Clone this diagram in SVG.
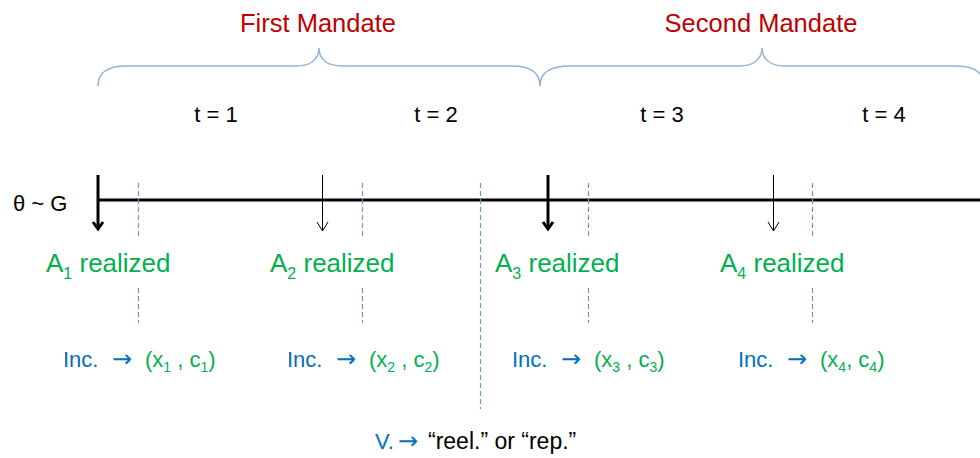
<svg xmlns="http://www.w3.org/2000/svg" width="980" height="458" viewBox="0 0 980 458">
  <style>
    text { font-family: "Liberation Sans", Arial, sans-serif; }
    .mandate { font-size: 25.5px; fill: #c00000; }
    .period { font-size: 22px; fill: #000000; text-anchor: middle; }
    .theta { font-size: 22px; fill: #000000; }
    .real { font-size: 26px; fill: #00b050; }
    .inc { font-size: 22px; fill: #0070c0; }
    .arr { font-family: "DejaVu Sans", sans-serif; font-size: 24px; }
    .grn { fill: #00b050; }
    .blk { fill: #000000; }
    .sub { font-size: 14px; }
    .brace { fill: none; stroke: #94b3d6; stroke-width: 1.5; }
    .axis { stroke: #000000; stroke-width: 3; }
    .thick { stroke: #000000; stroke-width: 3; fill: none; marker-end: url(#headThick); }
    .thin { stroke: #000000; stroke-width: 1; fill: none; marker-end: url(#headThin); }
    .dash { stroke: #6d95c9; stroke-width: 1.2; stroke-dasharray: 5 3; fill: none; }
  </style>
  <defs>
    <marker id="headThick" markerUnits="userSpaceOnUse" markerWidth="20" markerHeight="20" refX="7" refY="6" orient="auto" overflow="visible">
      <path d="M0,1 L7,6 L0,11" fill="none" stroke="#000" stroke-width="3" stroke-linejoin="miter"/>
    </marker>
    <marker id="headThin" markerUnits="userSpaceOnUse" markerWidth="20" markerHeight="20" refX="9" refY="6" orient="auto" overflow="visible">
      <path d="M0,0.5 L9,6 L0,11.5" fill="none" stroke="#000" stroke-width="1"/>
    </marker>
  </defs>

  <g id="connectors">
    <path class="brace" d="M98,86 C98,72 108,66 126,66 L296,66 C310,66 319,60 319,48 C319,60 328,66 342,66 L512,66 C530,66 540,72 540,86"/>
    <path class="brace" d="M540,86 C540,72 550,66 570,66 L740,66 C752,66 762,60 762,48 C762,60 772,66 784,66 L956,66 C974,66 984,72 984,86"/>
    <line class="axis" x1="98" y1="200" x2="980" y2="200"/>
    <line class="thick" x1="98" y1="175" x2="98" y2="229"/>
    <line class="thick" x1="548" y1="175" x2="548" y2="229"/>
    <line class="thin" x1="322.5" y1="175" x2="322.5" y2="231"/>
    <line class="thin" x1="773.5" y1="175" x2="773.5" y2="231"/>
    <line class="dash" x1="138.5" y1="183" x2="138.5" y2="236"/>
    <line class="dash" x1="138.5" y1="288" x2="138.5" y2="323"/>
    <line class="dash" x1="362.5" y1="183" x2="362.5" y2="236"/>
    <line class="dash" x1="362.5" y1="288" x2="362.5" y2="323"/>
    <line class="dash" x1="588.5" y1="183" x2="588.5" y2="236"/>
    <line class="dash" x1="588.5" y1="288" x2="588.5" y2="323"/>
    <line class="dash" x1="812.5" y1="183" x2="812.5" y2="236"/>
    <line class="dash" x1="812.5" y1="288" x2="812.5" y2="323"/>
    <line class="dash" x1="480.5" y1="183" x2="480.5" y2="409"/>
  </g>

  <g id="mandate1"><text class="mandate" x="318" y="32" text-anchor="middle">First Mandate</text></g>
  <g id="mandate2"><text class="mandate" x="761" y="32" text-anchor="middle">Second Mandate</text></g>

  <g id="t1"><text class="period" x="216" y="122">t = 1</text></g>
  <g id="t2"><text class="period" x="436" y="122">t = 2</text></g>
  <g id="t3"><text class="period" x="662" y="122">t = 3</text></g>
  <g id="t4"><text class="period" x="884" y="122">t = 4</text></g>

  <g id="theta"><text class="theta" x="13" y="211">θ ~ G</text></g>

  <g id="a1"><text class="real" x="46" y="272">A<tspan font-size="16" dy="7">1</tspan><tspan dy="-7"> realized</tspan></text></g>
  <g id="a2"><text class="real" x="270" y="272">A<tspan font-size="16" dy="7">2</tspan><tspan dy="-7"> realized</tspan></text></g>
  <g id="a3"><text class="real" x="495" y="272">A<tspan font-size="16" dy="7">3</tspan><tspan dy="-7"> realized</tspan></text></g>
  <g id="a4"><text class="real" x="720" y="272">A<tspan font-size="16" dy="7">4</tspan><tspan dy="-7"> realized</tspan></text></g>

  <g id="inc1"><text class="inc" x="63" y="367">Inc.<tspan class="arr" x="112">→</tspan><tspan class="grn" x="145">(x<tspan class="sub" dy="5">1</tspan><tspan dy="-5"> , c</tspan><tspan class="sub" dy="5">1</tspan><tspan dy="-5">)</tspan></tspan></text></g>
  <g id="inc2"><text class="inc" x="287" y="367">Inc.<tspan class="arr" x="336">→</tspan><tspan class="grn" x="369">(x<tspan class="sub" dy="5">2</tspan><tspan dy="-5"> , c</tspan><tspan class="sub" dy="5">2</tspan><tspan dy="-5">)</tspan></tspan></text></g>
  <g id="inc3"><text class="inc" x="512" y="367">Inc.<tspan class="arr" x="561">→</tspan><tspan class="grn" x="594">(x<tspan class="sub" dy="5">3</tspan><tspan dy="-5"> , c</tspan><tspan class="sub" dy="5">3</tspan><tspan dy="-5">)</tspan></tspan></text></g>
  <g id="inc4"><text class="inc" x="738" y="367">Inc.<tspan class="arr" x="787">→</tspan><tspan class="grn" x="820">(x<tspan class="sub" dy="5">4</tspan><tspan dy="-5">, c</tspan><tspan class="sub" dy="5">4</tspan><tspan dy="-5">)</tspan></tspan></text></g>

  <g id="vote"><text class="inc" x="375" y="449">V.<tspan class="arr" x="398">→</tspan><tspan class="blk" x="428" font-size="23">“reel.” or “rep.”</tspan></text></g>
</svg>
